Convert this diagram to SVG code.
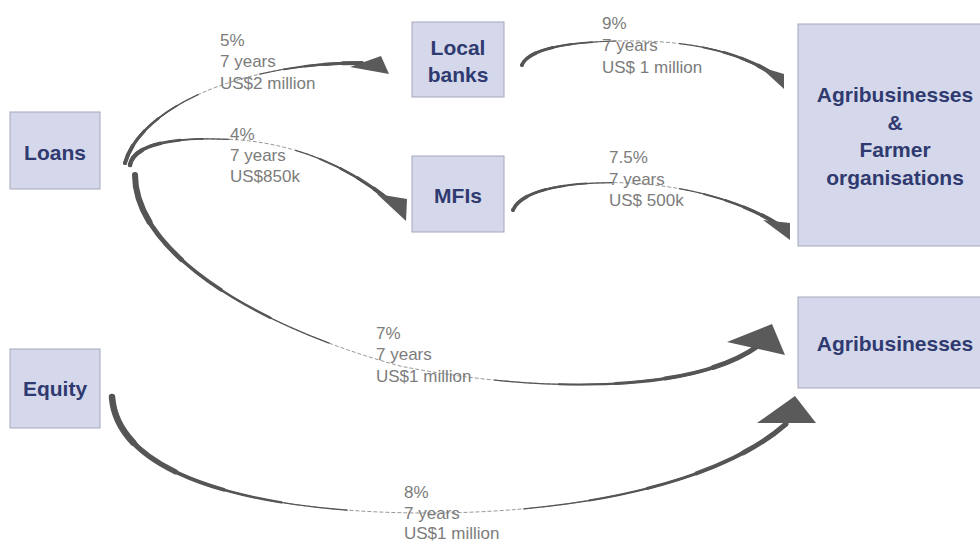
<svg xmlns="http://www.w3.org/2000/svg" width="980" height="543" viewBox="0 0 980 543">
<style>
.box{fill:#d5d8ea;stroke:#a5a8bc;stroke-width:1}
.nt{font-family:"Liberation Sans",Arial,sans-serif;font-weight:bold;font-size:21px;fill:#2f3a70;text-anchor:middle}
.lb{font-family:"Liberation Sans",Arial,sans-serif;font-size:17px;fill:#7c7c7c}
.thin{fill:none;stroke:#999;stroke-width:1;stroke-dasharray:4 2}
.sk{fill:none;stroke:#555;stroke-linecap:round}
.s1{stroke-dasharray:7 200}
.s2{stroke-dasharray:14 200}
.s3{stroke-dasharray:21 200}
.s4{stroke-dasharray:29 200}
.s5{stroke-dasharray:38 200}
.e1{stroke-dasharray:0 93 7 100}
.e2{stroke-dasharray:0 86 14 100}
.e3{stroke-dasharray:0 79 21 100}
.e4{stroke-dasharray:0 71 29 100}
.e5{stroke-dasharray:0 62 38 100}
.head{fill:#5a5a5a}
</style>
<rect width="980" height="543" fill="#fff"/>
<g id="connectors">
  <g id="c-loans-banks">
    <path class="thin" d="M125,163 C140,110 235,63 362,63"/>
    <path class="sk s5" pathLength="100" stroke-width="1.2" d="M125,163 C140,110 235,63 362,63"/>
    <path class="sk s4" pathLength="100" stroke-width="1.8" d="M125,163 C140,110 235,63 362,63"/>
    <path class="sk s3" pathLength="100" stroke-width="2.5" d="M125,163 C140,110 235,63 362,63"/>
    <path class="sk s2" pathLength="100" stroke-width="3.2" d="M125,163 C140,110 235,63 362,63"/>
    <path class="sk s1" pathLength="100" stroke-width="4" d="M125,163 C140,110 235,63 362,63"/>
    <path class="sk e5" pathLength="100" stroke-width="1.2" d="M125,163 C140,110 235,63 362,63"/>
    <path class="sk e4" pathLength="100" stroke-width="1.8" d="M125,163 C140,110 235,63 362,63"/>
    <path class="sk e3" pathLength="100" stroke-width="2.5" d="M125,163 C140,110 235,63 362,63"/>
    <path class="sk e2" pathLength="100" stroke-width="3.2" d="M125,163 C140,110 235,63 362,63"/>
    <path class="sk e1" pathLength="100" stroke-width="4" d="M125,163 C140,110 235,63 362,63"/>
    <polygon class="head" points="350,67 381,56 389,74"/>
  </g>
  <g id="c-loans-mfis">
    <path class="thin" d="M130,165 C135,138 200,137 240,140 C300,145 350,168 390,201"/>
    <path class="sk s5" pathLength="100" stroke-width="1.2" d="M130,165 C135,138 200,137 240,140 C300,145 350,168 390,201"/>
    <path class="sk s4" pathLength="100" stroke-width="1.9" d="M130,165 C135,138 200,137 240,140 C300,145 350,168 390,201"/>
    <path class="sk s3" pathLength="100" stroke-width="2.7" d="M130,165 C135,138 200,137 240,140 C300,145 350,168 390,201"/>
    <path class="sk s2" pathLength="100" stroke-width="3.6" d="M130,165 C135,138 200,137 240,140 C300,145 350,168 390,201"/>
    <path class="sk s1" pathLength="100" stroke-width="4.5" d="M130,165 C135,138 200,137 240,140 C300,145 350,168 390,201"/>
    <path class="sk e5" pathLength="100" stroke-width="1.2" d="M130,165 C135,138 200,137 240,140 C300,145 350,168 390,201"/>
    <path class="sk e4" pathLength="100" stroke-width="1.8" d="M130,165 C135,138 200,137 240,140 C300,145 350,168 390,201"/>
    <path class="sk e3" pathLength="100" stroke-width="2.5" d="M130,165 C135,138 200,137 240,140 C300,145 350,168 390,201"/>
    <path class="sk e2" pathLength="100" stroke-width="3.2" d="M130,165 C135,138 200,137 240,140 C300,145 350,168 390,201"/>
    <path class="sk e1" pathLength="100" stroke-width="4" d="M130,165 C135,138 200,137 240,140 C300,145 350,168 390,201"/>
    <polygon class="head" points="377,194 407,199 406,221"/>
  </g>
  <g id="c-loans-agri">
    <path class="thin" d="M135,175 C135,250 250,325 400,366 C530,392 690,395 758,346"/>
    <path class="sk s5" pathLength="100" stroke-width="1.4" d="M135,175 C135,250 250,325 400,366 C530,392 690,395 758,346"/>
    <path class="sk s4" pathLength="100" stroke-width="2.4" d="M135,175 C135,250 250,325 400,366 C530,392 690,395 758,346"/>
    <path class="sk s3" pathLength="100" stroke-width="3.5" d="M135,175 C135,250 250,325 400,366 C530,392 690,395 758,346"/>
    <path class="sk s2" pathLength="100" stroke-width="4.7" d="M135,175 C135,250 250,325 400,366 C530,392 690,395 758,346"/>
    <path class="sk s1" pathLength="100" stroke-width="6" d="M135,175 C135,250 250,325 400,366 C530,392 690,395 758,346"/>
    <path class="sk e5" pathLength="100" stroke-width="1.3" d="M135,175 C135,250 250,325 400,366 C530,392 690,395 758,346"/>
    <path class="sk e4" pathLength="100" stroke-width="2.1" d="M135,175 C135,250 250,325 400,366 C530,392 690,395 758,346"/>
    <path class="sk e3" pathLength="100" stroke-width="3" d="M135,175 C135,250 250,325 400,366 C530,392 690,395 758,346"/>
    <path class="sk e2" pathLength="100" stroke-width="4" d="M135,175 C135,250 250,325 400,366 C530,392 690,395 758,346"/>
    <path class="sk e1" pathLength="100" stroke-width="5" d="M135,175 C135,250 250,325 400,366 C530,392 690,395 758,346"/>
    <polygon class="head" points="727,342 772,324 785,355"/>
  </g>
  <g id="c-equity-agri">
    <path class="thin" d="M112,397 C118,478 260,512 420,513 C580,514 720,482 786,424"/>
    <path class="sk s5" pathLength="100" stroke-width="1.4" d="M112,397 C118,478 260,512 420,513 C580,514 720,482 786,424"/>
    <path class="sk s4" pathLength="100" stroke-width="2.5" d="M112,397 C118,478 260,512 420,513 C580,514 720,482 786,424"/>
    <path class="sk s3" pathLength="100" stroke-width="3.8" d="M112,397 C118,478 260,512 420,513 C580,514 720,482 786,424"/>
    <path class="sk s2" pathLength="100" stroke-width="5.1" d="M112,397 C118,478 260,512 420,513 C580,514 720,482 786,424"/>
    <path class="sk s1" pathLength="100" stroke-width="6.5" d="M112,397 C118,478 260,512 420,513 C580,514 720,482 786,424"/>
    <path class="sk e5" pathLength="100" stroke-width="1.3" d="M112,397 C118,478 260,512 420,513 C580,514 720,482 786,424"/>
    <path class="sk e4" pathLength="100" stroke-width="2.1" d="M112,397 C118,478 260,512 420,513 C580,514 720,482 786,424"/>
    <path class="sk e3" pathLength="100" stroke-width="3" d="M112,397 C118,478 260,512 420,513 C580,514 720,482 786,424"/>
    <path class="sk e2" pathLength="100" stroke-width="4" d="M112,397 C118,478 260,512 420,513 C580,514 720,482 786,424"/>
    <path class="sk e1" pathLength="100" stroke-width="5" d="M112,397 C118,478 260,512 420,513 C580,514 720,482 786,424"/>
    <polygon class="head" points="757,423 795,396 816,423"/>
  </g>
  <g id="c-banks-agrifarm">
    <path class="thin" d="M522,65 C530,45 590,40 640,41 C700,42 745,55 774,75"/>
    <path class="sk s5" pathLength="100" stroke-width="1.1" d="M522,65 C530,45 590,40 640,41 C700,42 745,55 774,75"/>
    <path class="sk s4" pathLength="100" stroke-width="1.7" d="M522,65 C530,45 590,40 640,41 C700,42 745,55 774,75"/>
    <path class="sk s3" pathLength="100" stroke-width="2.3" d="M522,65 C530,45 590,40 640,41 C700,42 745,55 774,75"/>
    <path class="sk s2" pathLength="100" stroke-width="2.9" d="M522,65 C530,45 590,40 640,41 C700,42 745,55 774,75"/>
    <path class="sk s1" pathLength="100" stroke-width="3.5" d="M522,65 C530,45 590,40 640,41 C700,42 745,55 774,75"/>
    <path class="sk e5" pathLength="100" stroke-width="1.2" d="M522,65 C530,45 590,40 640,41 C700,42 745,55 774,75"/>
    <path class="sk e4" pathLength="100" stroke-width="1.8" d="M522,65 C530,45 590,40 640,41 C700,42 745,55 774,75"/>
    <path class="sk e3" pathLength="100" stroke-width="2.5" d="M522,65 C530,45 590,40 640,41 C700,42 745,55 774,75"/>
    <path class="sk e2" pathLength="100" stroke-width="3.2" d="M522,65 C530,45 590,40 640,41 C700,42 745,55 774,75"/>
    <path class="sk e1" pathLength="100" stroke-width="4" d="M522,65 C530,45 590,40 640,41 C700,42 745,55 774,75"/>
    <polygon class="head" points="760,67 784,74 784,89"/>
  </g>
  <g id="c-mfis-agrifarm">
    <path class="thin" d="M513,210 C523,187 580,181 630,183 C690,186 745,203 779,225"/>
    <path class="sk s5" pathLength="100" stroke-width="1.1" d="M513,210 C523,187 580,181 630,183 C690,186 745,203 779,225"/>
    <path class="sk s4" pathLength="100" stroke-width="1.7" d="M513,210 C523,187 580,181 630,183 C690,186 745,203 779,225"/>
    <path class="sk s3" pathLength="100" stroke-width="2.3" d="M513,210 C523,187 580,181 630,183 C690,186 745,203 779,225"/>
    <path class="sk s2" pathLength="100" stroke-width="2.9" d="M513,210 C523,187 580,181 630,183 C690,186 745,203 779,225"/>
    <path class="sk s1" pathLength="100" stroke-width="3.5" d="M513,210 C523,187 580,181 630,183 C690,186 745,203 779,225"/>
    <path class="sk e5" pathLength="100" stroke-width="1.2" d="M513,210 C523,187 580,181 630,183 C690,186 745,203 779,225"/>
    <path class="sk e4" pathLength="100" stroke-width="1.8" d="M513,210 C523,187 580,181 630,183 C690,186 745,203 779,225"/>
    <path class="sk e3" pathLength="100" stroke-width="2.5" d="M513,210 C523,187 580,181 630,183 C690,186 745,203 779,225"/>
    <path class="sk e2" pathLength="100" stroke-width="3.2" d="M513,210 C523,187 580,181 630,183 C690,186 745,203 779,225"/>
    <path class="sk e1" pathLength="100" stroke-width="4" d="M513,210 C523,187 580,181 630,183 C690,186 745,203 779,225"/>
    <polygon class="head" points="763,220 790,223 790,240"/>
  </g>
</g>
<g id="labels">
  <text class="lb" x="220" y="46">5%</text>
  <text class="lb" x="220" y="67">7 years</text>
  <text class="lb" x="220" y="89">US$2 million</text>
  <text class="lb" x="230" y="140">4%</text>
  <text class="lb" x="230" y="161">7 years</text>
  <text class="lb" x="230" y="182">US$850k</text>
  <text class="lb" x="602" y="29">9%</text>
  <text class="lb" x="602" y="51">7 years</text>
  <text class="lb" x="602" y="73">US$ 1 million</text>
  <text class="lb" x="609" y="163">7.5%</text>
  <text class="lb" x="609" y="185">7 years</text>
  <text class="lb" x="609" y="206">US$ 500k</text>
  <text class="lb" x="376" y="339">7%</text>
  <text class="lb" x="376" y="360">7 years</text>
  <text class="lb" x="376" y="382">US$1 million</text>
  <text class="lb" x="404" y="498">8%</text>
  <text class="lb" x="404" y="519">7 years</text>
  <text class="lb" x="404" y="539">US$1 million</text>
</g>
<g id="loans">
  <rect class="box" x="10" y="112" width="90" height="77"/>
  <text class="nt" x="55" y="160">Loans</text>
</g>
<g id="equity">
  <rect class="box" x="10" y="349" width="90" height="79"/>
  <text class="nt" x="55" y="396">Equity</text>
</g>
<g id="local-banks">
  <rect class="box" x="412" y="22" width="92" height="75"/>
  <text class="nt" x="458" y="55">Local</text>
  <text class="nt" x="458" y="82">banks</text>
</g>
<g id="mfis">
  <rect class="box" x="412" y="156" width="92" height="76"/>
  <text class="nt" x="458" y="203">MFIs</text>
</g>
<g id="agri-farmer">
  <rect class="box" x="798" y="24" width="190" height="222"/>
  <text class="nt" x="895" y="102">Agribusinesses</text>
  <text class="nt" x="895" y="130">&amp;</text>
  <text class="nt" x="895" y="157">Farmer</text>
  <text class="nt" x="895" y="185">organisations</text>
</g>
<g id="agri">
  <rect class="box" x="798" y="297" width="190" height="91"/>
  <text class="nt" x="895" y="351">Agribusinesses</text>
</g>
</svg>
